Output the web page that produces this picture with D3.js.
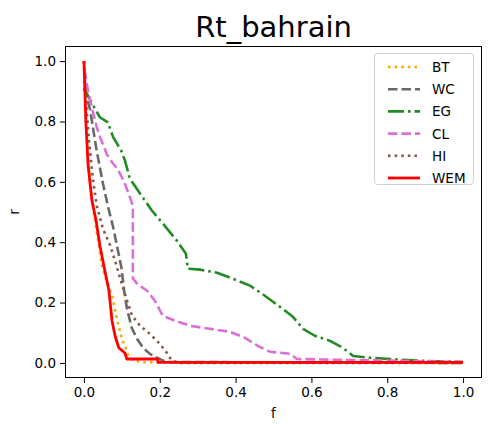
<!DOCTYPE html>
<html><head><meta charset="utf-8">
<script src="https://cdn.jsdelivr.net/npm/d3@7"></script>
<style>body{margin:0;background:#fff;} svg{display:block;font-family:"DejaVu Sans",sans-serif;}</style>
</head><body>
<svg id="c" width="489" height="424"></svg>
<script>
const title = "Rt_bahrain";
const xTicks = [0.0, 0.2, 0.4, 0.6, 0.8, 1.0];
const yTicks = [0.0, 0.2, 0.4, 0.6, 0.8, 1.0];
const seriesNames = ["BT", "WC", "EG", "CL", "HI", "WEM"];
const BT_f = [0,0.004,0.01,0.018,0.028,0.038,0.048,0.06,0.075,0.088,0.1,0.11,0.118,0.13,0.16,1.0];
const BT_r = [1,0.85,0.7,0.58,0.48,0.4,0.32,0.27,0.22,0.14,0.08,0.05,0.02,0.008,0.002,0.0];
const WC_f = [0,0.003,0.016,0.034,0.05,0.063,0.077,0.09,0.099,0.106,0.113,0.126,0.14,0.156,0.174,0.192,0.218,1.0];
const WC_r = [0.91,0.9,0.84,0.7,0.595,0.52,0.45,0.37,0.315,0.24,0.183,0.116,0.08,0.05,0.03,0.017,0.003,0.0];
const EG_f = [0,0.003,0.021,0.042,0.063,0.077,0.098,0.108,0.121,0.148,0.179,0.208,0.245,0.269,0.274,0.306,0.351,0.393,0.438,0.47,0.517,0.551,0.578,0.609,0.649,0.683,0.71,0.755,0.807,0.887,1.0];
const EG_r = [0.91,0.904,0.86,0.814,0.797,0.748,0.704,0.671,0.611,0.561,0.505,0.462,0.405,0.362,0.312,0.309,0.299,0.279,0.256,0.229,0.186,0.153,0.113,0.09,0.073,0.05,0.023,0.017,0.013,0.007,0.003];
const CL_f = [0,0.003,0.011,0.024,0.034,0.045,0.061,0.077,0.09,0.106,0.121,0.129,0.129,0.142,0.166,0.187,0.208,0.24,0.28,0.332,0.385,0.425,0.459,0.491,0.544,0.562,0.675,0.834,1.0];
const CL_r = [0.97,0.96,0.9,0.83,0.78,0.74,0.69,0.66,0.64,0.6,0.55,0.52,0.28,0.26,0.24,0.206,0.156,0.14,0.123,0.113,0.103,0.083,0.056,0.037,0.03,0.013,0.01,0.007,0.003];
const HI_f = [0,0.005,0.013,0.024,0.034,0.05,0.069,0.084,0.098,0.111,0.127,0.148,0.174,0.2,0.219,0.232,0.253,1.0];
const HI_r = [1,0.87,0.74,0.605,0.52,0.445,0.39,0.33,0.27,0.216,0.156,0.123,0.096,0.063,0.033,0.007,0.0,0.0];
const WEM_f = [0,0.005,0.011,0.021,0.032,0.042,0.055,0.066,0.074,0.082,0.092,0.108,0.113,0.195,0.195,1.0];
const WEM_r = [1,0.8,0.654,0.538,0.472,0.389,0.306,0.239,0.14,0.09,0.05,0.033,0.013,0.013,0.002,0.002];

const seriesData = {BT:[BT_f,BT_r], WC:[WC_f,WC_r], EG:[EG_f,EG_r], CL:[CL_f,CL_r], HI:[HI_f,HI_r], WEM:[WEM_f,WEM_r]};
const styles = {
  BT:{color:"#ffa500", w:2.6, dash:"2.6,4"},
  WC:{color:"#696969", w:2.6, dash:"9.5,4"},
  EG:{color:"#228b22", w:2.6, dash:"16,4,2.6,4"},
  CL:{color:"#da70d6", w:2.6, dash:"9.5,4"},
  HI:{color:"#8c564b", w:2.6, dash:"2.6,4"},
  WEM:{color:"#ff0000", w:2.8, dash:null}
};

const svg = d3.select("#c");
const L=65, R=482, T=46, B=378;
const x = d3.scaleLinear().domain([-0.05,1.05]).range([L,R]);
const y = d3.scaleLinear().domain([-0.05,1.05]).range([B,T]);

const g = svg.append("g");
const xAxis = d3.axisBottom(x).tickValues(xTicks).tickFormat(d3.format(".1f")).tickSize(5).tickPadding(4);
const yAxis = d3.axisLeft(y).tickValues(yTicks).tickFormat(d3.format(".1f")).tickSize(5).tickPadding(4);
const gx = g.append("g").attr("transform",`translate(0,${B})`).call(xAxis);
const gy = g.append("g").attr("transform",`translate(${L},0)`).call(yAxis);
[gx,gy].forEach(a=>{a.select(".domain").remove(); a.selectAll("text").attr("font-size",13.5).attr("fill","#000").attr("font-family","DejaVu Sans"); a.selectAll("line").attr("stroke","#000").attr("stroke-width",1);});

svg.append("clipPath").attr("id","cp").append("rect").attr("x",L).attr("y",T).attr("width",R-L).attr("height",B-T);
const line = d3.line().x(d=>x(d[0])).y(d=>y(d[1]));
const plot = svg.append("g").attr("clip-path","url(#cp)");
seriesNames.forEach(n=>{
  const [f,r] = seriesData[n];
  const pts = f.map((v,i)=>[v,r[i]]);
  const s = styles[n];
  plot.append("path").datum(pts).attr("d",line).attr("fill","none")
    .attr("stroke",s.color).attr("stroke-width",s.w).attr("stroke-dasharray",s.dash)
    .attr("stroke-linejoin","round");
});

svg.append("rect").attr("x",L+0.5).attr("y",T+0.5).attr("width",R-L-1).attr("height",B-T-1).attr("fill","none").attr("stroke","#000").attr("stroke-width",1);

svg.append("text").attr("x",(L+R)/2).attr("y",37).attr("text-anchor","middle").attr("font-size",29).attr("fill","#000").text(title);
svg.append("text").attr("x",(L+R)/2).attr("y",418).attr("text-anchor","middle").attr("font-size",13.5).text("f");
svg.append("text").attr("transform",`translate(19,${(T+B)/2}) rotate(-90)`).attr("text-anchor","middle").attr("font-size",13.5).text("r");

// legend
const lg = svg.append("g");
lg.append("rect").attr("x",374.5).attr("y",53.5).attr("width",99).attr("height",131).attr("rx",3)
  .attr("fill","#fff").attr("fill-opacity",0.8).attr("stroke","#d0d0d0").attr("stroke-width",1);
seriesNames.forEach((n,i)=>{
  const yy = 67 + i*22.2;
  const s = styles[n];
  lg.append("line").attr("x1",388).attr("x2",420).attr("y1",yy).attr("y2",yy)
    .attr("stroke",s.color).attr("stroke-width",s.w).attr("stroke-dasharray",s.dash);
  lg.append("text").attr("x",432).attr("y",yy+5).attr("font-size",13.5).text(n);
});
</script>
</body></html>
